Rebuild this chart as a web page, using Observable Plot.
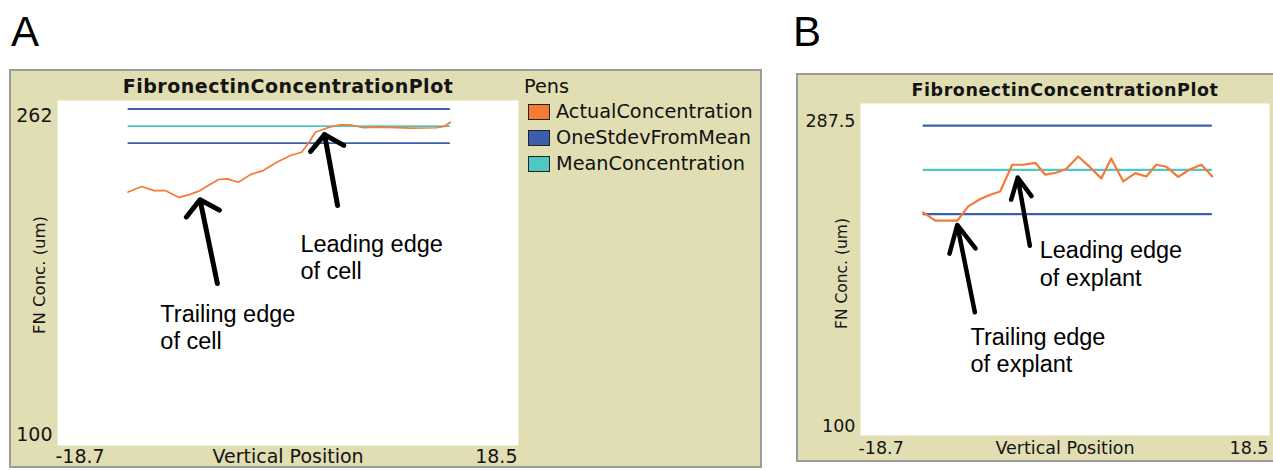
<!DOCTYPE html>
<html>
<head>
<meta charset="utf-8">
<script src="https://cdn.jsdelivr.net/npm/d3@7"></script>
<script src="https://cdn.jsdelivr.net/npm/@observablehq/plot@0.6"></script>
<style>
  html, body { margin: 0; padding: 0; width: 1273px; height: 470px; overflow: hidden; background: #ffffff; }
  .letter { position: absolute; font-family: "Liberation Sans", Arial, sans-serif; font-size: 42px; line-height: 1; color: #000; }
  .box { position: absolute; background: #e1deb3; border: 2px solid #9b9b9b; box-sizing: border-box; }
  .chart { position: absolute; }
  .legend { position: absolute; font-family: "DejaVu Sans", sans-serif; font-size: 19.3px; color: #111; }
  .legend .row { position: absolute; left: 0; height: 17px; display: flex; align-items: center; white-space: nowrap; }
  .legend .sw { width: 20px; height: 14px; border: 1.5px solid #222; margin-right: 6px; }
</style>
</head>
<body>
<div class="letter" style="left:11px; top:11px;">A</div>
<div class="letter" style="left:793px; top:11px;">B</div>
<div class="box" style="left:9px; top:69px; width:753px; height:399px;"></div>
<div class="box" style="left:796px; top:73px; width:520px; height:389px;"></div>
<div id="chartA" class="chart" style="left:12px; top:72px;"></div>
<div id="chartB" class="chart" style="left:799px; top:76px;"></div>
<div id="legendA" class="legend" style="left:523px; top:76px;"></div>
<script>
// ---- shared text ----
const plotTitle = "FibronectinConcentrationPlot";
const xLabel = "Vertical Position";
const yLabel = "FN Conc. (um)";
const legendTitle = "Pens";
const pens = ["ActualConcentration", "OneStdevFromMean", "MeanConcentration"];
const penColors = ["#f47a35", "#3d5eaf", "#4fc8c4"];

// ---- panel A (cell) ----
const xTicksA = [-18.7, 18.5];
const yTicksA = [100, 262];
const positionA = [-13.0, -11.9, -10.9, -10.0, -8.9, -8.0, -7.2, -6.3, -5.7, -5.0, -4.1, -3.1, -2.1, -1.0, 0.1, 1.0, 1.7, 2.1, 3.1, 4.1, 4.9, 6.0, 7.1, 8.7, 9.8, 11.9, 12.5, 13.0];
const concentrationA = [219.0, 221.6, 219.7, 219.7, 216.5, 217.9, 219.7, 222.9, 224.9, 225.2, 223.6, 227.3, 229.1, 233.0, 236.2, 237.7, 243.2, 247.1, 249.2, 250.6, 250.6, 249.2, 249.5, 249.3, 249.0, 249.2, 249.8, 251.8];
const meanA = 250;
const stdevA = 8;
const arrowsA = [
  {x1: -5.8, y1: 176.1, x2: -7.2, y2: 215.4},
  {x1: 3.9, y1: 212.7, x2: 2.85, y2: 246.0}
];
const notesA = [
  {x: -10.4, y: 167.2, text: "Trailing edge\nof cell"},
  {x: 0.9, y: 200.0, text: "Leading edge\nof cell"}
];

// ---- panel B (explant) ----
const xTicksB = [-18.7, 18.5];
const yTicksB = [100, 287.5];
const positionB = [-13.0, -11.9, -10.9, -9.9, -8.9, -7.8, -6.9, -6.0, -4.9, -3.9, -2.8, -1.9, -0.9, 0.0, 1.1, 2.2, 3.2, 4.1, 5.2, 6.3, 7.3, 8.2, 9.1, 10.2, 11.2, 12.3, 13.3];
const concentrationB = [226.0, 221.3, 221.3, 221.3, 229.4, 233.6, 236.0, 237.8, 252.9, 252.9, 254.0, 247.3, 248.4, 250.5, 257.6, 251.4, 245.2, 256.5, 243.5, 248.2, 246.3, 252.9, 251.8, 246.1, 250.1, 252.9, 246.3];
const meanB = 250;
const stdevB = 25;
const arrowsB = [
  {x1: -8.3, y1: 169.6, x2: -9.9, y2: 218.9},
  {x1: -3.3, y1: 207.2, x2: -4.4, y2: 245.7}
];
const notesB = [
  {x: -8.7, y: 162.6, text: "Trailing edge\nof explant"},
  {x: -2.4, y: 211.5, text: "Leading edge\nof explant"}
];

const fmt = d => String(d);

function panel(cfg) {
  const pts = cfg.xs.map((x, i) => ({x, y: cfg.ys[i]}));
  const x0 = cfg.xs[0], x1 = cfg.xs[cfg.xs.length - 1];
  const f = cfg.font;
  return Plot.plot({
    width: cfg.width, height: cfg.height,
    marginLeft: cfg.ml, marginTop: cfg.mt, marginRight: cfg.mr, marginBottom: cfg.mb,
    style: {background: "none", fontFamily: "DejaVu Sans, sans-serif", fontSize: f + "px", color: "#141414", overflow: "visible"},
    x: {domain: [cfg.xTicks[0], cfg.xTicks[1]]},
    y: {domain: [cfg.yTicks[0], cfg.yTicks[1]]},
    marks: [
      Plot.frame({fill: "white", stroke: null}),
      Plot.ruleY([cfg.mean + cfg.sd, cfg.mean - cfg.sd], {x1: x0, x2: x1, stroke: penColors[1], strokeWidth: cfg.refW}),
      Plot.ruleY([cfg.mean], {x1: x0, x2: x1, stroke: penColors[2], strokeWidth: cfg.refW}),
      Plot.line(pts, {x: "x", y: "y", stroke: penColors[0], strokeWidth: cfg.lineW}),
      Plot.axisY([cfg.yTicks[1]], {tickSize: 0, tickPadding: 5, dy: cfg.topDy, fontSize: f, label: null, tickFormat: fmt}),
      Plot.axisY([cfg.yTicks[0]], {tickSize: 0, tickPadding: 5, dy: cfg.botDy, fontSize: f, label: null, tickFormat: fmt}),
      Plot.axisX([cfg.xTicks[0]], {tickSize: 0, tickPadding: cfg.xPad, textAnchor: "start", dx: -2, fontSize: f, label: null, tickFormat: fmt}),
      Plot.axisX([cfg.xTicks[1]], {tickSize: 0, tickPadding: cfg.xPad, textAnchor: "end", dx: -1, fontSize: f, label: null, tickFormat: fmt}),
      Plot.text([xLabel], {frameAnchor: "bottom", lineAnchor: "top", textAnchor: "middle", dy: cfg.xPad, fontSize: f, text: d => d}),
      Plot.text([yLabel], {frameAnchor: "left", textAnchor: "middle", lineAnchor: "middle", rotate: -90, dx: cfg.yLabDx, dy: cfg.yLabDy, fontSize: cfg.yLabFont, text: d => d}),
      Plot.text([plotTitle], {frameAnchor: "top", lineAnchor: "bottom", textAnchor: "middle", dy: -8, fontWeight: "bold", fontSize: cfg.titleFont, text: d => d}),
      Plot.arrow(cfg.arrows, {x1: "x1", y1: "y1", x2: "x2", y2: "y2", stroke: "#000", strokeWidth: cfg.arrowW, headAngle: cfg.headAngle, headLength: cfg.headLength}),
      Plot.text(cfg.notes, {x: "x", y: "y", text: "text", textAnchor: "start", lineAnchor: "top", lineHeight: cfg.noteLH, fontFamily: "Liberation Sans, Arial, sans-serif", fontSize: 23.5, fill: "#000"})
    ]
  });
}

function applyLetterSpacing(svg, ls) {
  svg.querySelectorAll("text").forEach(t => {
    if (t.textContent === plotTitle) t.style.letterSpacing = ls + "px";
  });
}

const svgA = panel({
  xs: positionA, ys: concentrationA, xTicks: xTicksA, yTicks: yTicksA, mean: meanA, sd: stdevA,
  width: 746, height: 394, ml: 45, mt: 28, mr: 240, mb: 21,
  font: 19, topDy: 15, botDy: -11, xPad: 4, yLabDx: -18, yLabDy: 2, yLabFont: 16.5, titleFont: 19,
  refW: 1.8, lineW: 1.7, arrowW: 5, headAngle: 100, headLength: 6.6, noteLH: 1.15,
  arrows: arrowsA, notes: notesA
});
applyLetterSpacing(svgA, 0.5);
document.getElementById("chartA").append(svgA);

const svgB = panel({
  xs: positionB, ys: concentrationB, xTicks: xTicksB, yTicks: yTicksB, mean: meanB, sd: stdevB,
  width: 474, height: 383, ml: 61, mt: 27, mr: 4, mb: 24,
  font: 17.5, topDy: 17.5, botDy: -9, xPad: 6, yLabDx: -18, yLabDy: 4, yLabFont: 15.5, titleFont: 17.5,
  refW: 2.2, lineW: 2.2, arrowW: 4.5, headAngle: 53, headLength: 12.7, noteLH: 1.19,
  arrows: arrowsB, notes: notesB
});
applyLetterSpacing(svgB, 0.55);
document.getElementById("chartB").append(svgB);

// ---- legend for panel A ----
const lg = document.getElementById("legendA");
const head = document.createElement("div");
head.textContent = legendTitle;
head.style.position = "absolute";
head.style.left = "1px";
head.style.top = "0px";
head.style.lineHeight = "21px";
lg.append(head);
pens.forEach((p, i) => {
  const row = document.createElement("div");
  row.className = "row";
  row.style.top = (27 + i * 26) + "px";
  const sw = document.createElement("div");
  sw.className = "sw";
  sw.style.background = penColors[i];
  sw.style.marginLeft = "5px";
  const tx = document.createElement("span");
  tx.textContent = p;
  row.append(sw, tx);
  lg.append(row);
});
</script>
</body>
</html>
